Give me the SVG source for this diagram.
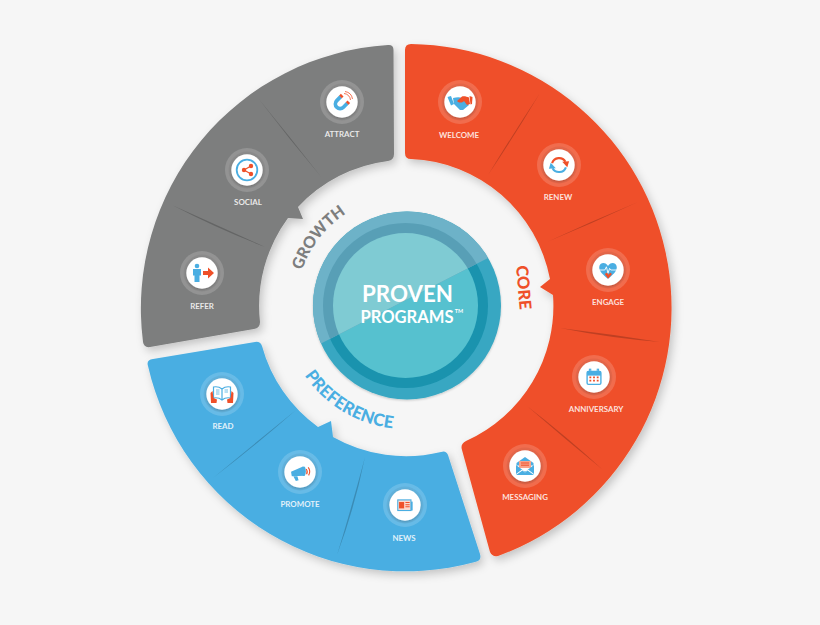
<svg xmlns="http://www.w3.org/2000/svg" width="820" height="625" viewBox="0 0 820 625">
<style>
.lbl{font-family:Lato,"Liberation Sans",sans-serif;font-weight:700;font-size:7.9px;fill:#fff;fill-opacity:.85;text-anchor:middle}
.arc{font-family:Lato,"Liberation Sans",sans-serif;font-weight:900;text-anchor:middle}
.ttl{font-family:Lato,"Liberation Sans",sans-serif;font-weight:700;fill:#fff;text-anchor:middle}
.ring{fill:#fff;fill-opacity:.17}
.ring2{fill:#000;fill-opacity:.05}
.face{fill:#fff}
.b{fill:#4aaee2}.r{fill:#ef5029}
.bs{fill:none;stroke:#4aaee2}.rs{fill:none;stroke:#ef5029}
.w{fill:none;stroke:#fff}
.div{fill:#000;fill-opacity:.2;filter:url(#soft)}
</style>
<defs>
<filter id="sh" x="-10%" y="-10%" width="120%" height="120%"><feDropShadow dx="3" dy="4" stdDeviation="4" flood-color="#000" flood-opacity=".2"/></filter>
<filter id="soft" x="-20%" y="-20%" width="140%" height="140%"><feGaussianBlur stdDeviation=".6"/></filter>
<filter id="sh2" x="-20%" y="-20%" width="140%" height="140%"><feDropShadow dx="0" dy="1" stdDeviation="1.2" flood-color="#000" flood-opacity=".2"/></filter>
<clipPath id="chord"><path d="M290,365 L322,343 L488,258 L520,190 L300,190 Z"/></clipPath>
<path id="pg" d="M297.5,288 A110 110 0 0 1 367.3,203"/>
<path id="pp" d="M287.2,337.8 A123 123 0 0 0 437.8,424.8"/>
<g id="badge"><circle class="ring" r="22"/><circle class="ring2" r="18.5"/><circle class="face" r="15.700" filter="url(#sh2)"/></g>
</defs>
<rect width="820" height="625" fill="#f6f6f6"/>

<g id="segment-growth"><path filter="url(#sh)" fill="#7d7e7e" d="M388,45 Q393.500,44.500 393.500,50 L394,154 Q394,160 388,161 A148 148 0 0 0 298,207 L303,219 L288,218 A148 148 0 0 0 260,322 Q260,328 254,329 L150,347 Q144,348 143,342 A264 264 0 0 1 388,45 Z"/>
<text class="arc" fill="#7d7e7e" font-size="16"><textPath href="#pg" startOffset="47.500%">GROWTH</textPath></text></g>

<g id="segment-core"><path filter="url(#sh)" fill="#ef5029" d="M405,50 Q405,44 411,44 A264 264 0 0 1 498,556 Q492,557 490,552 L462,450 Q460,444 466,441 A148 148 0 0 0 553,295 L540,287 L550,279 A148 148 0 0 0 411,159 Q405,159 405,153 Z"/>
<text class="arc" fill="#ef5029" font-size="16.500" transform="translate(516,266) rotate(85)" style="text-anchor:start">CORE</text></g>

<g id="segment-preference"><path filter="url(#sh)" fill="#4aaee2" d="M148,366 Q146,360 153,359 L255,342 Q260,341 262,346 A148 148 0 0 0 318,427 L331,421 L333,437 A148 148 0 0 0 441,452 Q446,450 448,455 L480,554 Q482,561 475,562 A264 264 0 0 1 148,366 Z"/>
<text class="arc" fill="#4aaee2" font-size="17"><textPath href="#pp" startOffset="49%">PREFERENCE</textPath></text></g>

<g id="connectors">
<path class="div" d="M258,98 Q289,139 322,178 Q290,137 258,98Z"/>
<path class="div" d="M172,205 Q218,229 265,247 Q219,226 172,205Z"/>
<path class="div" d="M540,93 Q513,134 488,175 Q515,135 540,93Z"/>
<path class="div" d="M638,202 Q592,221 547,242 Q593,223 638,202Z"/>
<path class="div" d="M560,328 Q610,338 660,342 Q610,334 560,328Z"/>
<path class="div" d="M527,406 Q565,439 603,470 Q566,436 527,406Z"/>
<path class="div" d="M296,410 Q254,444 213,478 Q255,446 296,410Z"/>
<path class="div" d="M365,457 Q352,506 337,555 Q355,507 365,457Z"/>
</g>

<g id="hub">
<circle cx="407" cy="305.500" r="94" fill="#38a7c2" filter="url(#sh2)"/>
<circle cx="405.500" cy="305.500" r="82.500" fill="#1a93ae"/>
<circle cx="405.500" cy="305.500" r="72.500" fill="#56c1cf"/>
<g clip-path="url(#chord)">
<circle cx="407" cy="305.500" r="94" fill="#6db2c8"/>
<circle cx="405.500" cy="305.500" r="82.500" fill="#589fb6"/>
<circle cx="405.500" cy="305.500" r="72.500" fill="#7fcbd3"/>
</g>
<text class="ttl" x="407.500" y="302" font-size="22.300">PROVEN</text>
<text class="ttl" x="407" y="323" font-size="16.600">PROGRAMS</text>
<text class="ttl" x="459" y="313" font-size="5.500">TM</text>
</g>

<g id="attract" transform="translate(342,102)"><use href="#badge"/>
<g transform="translate(-1,1) rotate(45) scale(.85)"><path class="bs" stroke-width="4.400" d="M-5.500,-5 V1.500 A5.500 5.500 0 0 0 5.500,1.500 V-5"/><rect class="r" x="-7.700" y="-7.500" width="4.400" height="2.800"/><rect class="r" x="3.300" y="-7.500" width="4.400" height="2.800"/></g>
<path class="rs" stroke-width=".8" d="M2,-8.500 A7 7 0 0 1 8.500,-2 M3,-10.500 A9 9 0 0 1 10.500,-3"/>
<text class="lbl" y="35.300">ATTRACT</text></g>

<g id="social" transform="translate(247,170)"><use href="#badge"/>
<circle class="bs" stroke-width="1.800" r="10.300"/>
<path class="rs" stroke-width="1.200" d="M4,-4 L-3,0 L4,4"/><circle class="r" cx="4" cy="-4" r="2.200"/><circle class="r" cx="-3" cy="0" r="2.200"/><circle class="r" cx="4" cy="4" r="2.200"/>
<text class="lbl" x="1" y="35.200">SOCIAL</text></g>

<g id="refer" transform="translate(202,273)"><use href="#badge"/>
<circle class="b" cx="-5" cy="-7" r="2.300"/><path class="b" d="M-9,-4 H-1 V2.500 H-2.500 V9 H-7.500 V2.500 H-9Z"/>
<path class="r" d="M1,-2 H6 V-5.500 L12,0 L6,5.500 V2 H1Z"/>
<text class="lbl" y="35.600">REFER</text></g>

<g id="welcome" transform="translate(460,102)"><use href="#badge"/>
<path class="b" d="M-12.500,-5 L-9,-6 L-6,2 L-9,3.500Z"/>
<path class="b" d="M-7,-4 C-3,-5 0,-5 2,-4 L-2,-1 C0,1 3,-1 5,-2 L9,3 L3,8 L0,8 L-6,2Z"/>
<path class="r" d="M-3,-1 L2,-5.500 C5,-6 7,-5 9,-4.500 L10,2 L7,3 L4,-1 C2,1 -1,1 -3,-1Z"/>
<path class="r" d="M9.500,-6 L12.500,-5 L12,2 L10.500,2.500Z"/>
<text class="lbl" x="-1" y="35.600">WELCOME</text></g>

<g id="renew" transform="translate(559,165)"><use href="#badge"/>
<g transform="scale(.92)"><path class="rs" stroke-width="2.300" d="M-7.500,-2 A8 8 0 0 1 7,-3.500"/><path class="r" d="M3.500,-3.500 L11,-4 L9,2.500Z"/>
<path class="bs" stroke-width="2.300" d="M7.500,2.500 A8 8 0 0 1 -7,3.500"/><path class="b" d="M-3.500,3.500 L-11,4 L-9,-2.500Z"/></g>
<text class="lbl" x="-1" y="34.600">RENEW</text></g>

<g id="engage" transform="translate(608,270)"><use href="#badge"/>
<g transform="scale(.8)"><path class="b" d="M0,11 C-6,6 -11,2 -11,-3.500 C-11,-8 -6,-10 -3,-8 C-1.500,-7.200 -.5,-6 0,-5 C.5,-6 1.500,-7.200 3,-8 C6,-10 11,-8 11,-3.500 C11,2 6,6 0,11Z"/>
<path class="r" d="M-4,5 L0,11 L5,5 L2.500,3 L1,6 L-1,3Z"/>
<path class="w" stroke-width="1.100" d="M-11,0 H-4 L-2,-4 L0,4 L2,-2 L3.500,0 H11"/></g>
<text class="lbl" y="35.200">ENGAGE</text></g>

<g id="anniversary" transform="translate(594,377)"><use href="#badge"/>
<g transform="scale(.92)"><rect class="bs" stroke-width="1.500" x="-7.500" y="-6" width="15" height="14" rx="1.500"/><rect class="b" x="-7.500" y="-6" width="15" height="4.500"/>
<rect class="bs" stroke-width="1.100" x="-5" y="-8.500" width="1.500" height="5"/><rect class="bs" stroke-width="1.100" x="3.500" y="-8.500" width="1.500" height="5"/>
<path class="r" d="M-5,-.5h2v1.800h-2zM-1,-.5h2v1.800h-2zM3,-.5h2v1.800h-2zM-5,3h2v1.800h-2zM-1,3h2v1.800h-2zM3,3h2v1.800h-2z"/></g>
<text class="lbl" x="2" y="35.300">ANNIVERSARY</text></g>

<g id="messaging" transform="translate(525,466)"><use href="#badge"/>
<path class="b" d="M-8.500,-3 L0,-9 L8.500,-3 L8.500,-.5 L-8.500,-.5Z"/>
<rect x="-6" y="-5" width="12" height="7" fill="#f8a38c"/><rect class="r" x="-4" y="-3.500" width="8" height="1"/><rect class="r" x="-4" y="-1.300" width="8" height="1"/>
<path class="b" d="M-9,-1 L-1,5 H1 L9,-1 V8 L3,3.500 L0,6 L-3,3.500 L-9,8Z"/><path class="b" d="M-9,9 L-2.500,4.500 L0,6.500 L2.500,4.500 L9,9Z"/>
<text class="lbl" y="34.300">MESSAGING</text></g>

<g id="read" transform="translate(222,394)"><use href="#badge"/>
<path class="bs" stroke-width="1.200" d="M0,-5 C-3,-7.500 -6,-7.500 -8.500,-7 V4 C-6,3.500 -3,3.500 0,6 C3,3.500 6,3.500 8.500,4 V-7 C6,-7.500 3,-7.500 0,-5 V6"/>
<path class="bs" stroke-width=".8" d="M-6,-4 H-2.500 M-6,-2 H-2.500 M-6,0 H-2.500 M2.500,-4 H6 M2.500,-2 H6"/>
<path class="r" d="M-11.500,-1 L-9.500,-3 L-8.500,4 L-5,5.500 L-5.500,9 L-11,9Z"/><path class="r" d="M11.500,-1 L9.500,-3 L8.500,4 L5,5.500 L5.500,9 L11,9Z"/>
<text class="lbl" x="1" y="34.600">READ</text></g>

<g id="promote" transform="translate(300,472)"><use href="#badge"/>
<g transform="translate(-1,1) scale(.8)"><path class="b" d="M-10,-1.500 L5,-8 L7,3.500 L-9,4Z"/><path class="b" d="M-7,4 L-2,4 L-.5,9 L-4,10Z"/><ellipse cx="6" cy="-2.200" rx="2.500" ry="6" class="b"/>
<path class="rs" stroke-width="1.400" d="M9,-5 A6 6 0 0 1 9.500,1.500 M11.500,-7 A9 9 0 0 1 12,3"/></g>
<text class="lbl" y="34.600">PROMOTE</text></g>

<g id="news" transform="translate(405,505)"><use href="#badge"/>
<g transform="scale(.85)"><rect x="-8.500" y="-6" width="15.500" height="12.500" fill="#fdd9ce" stroke="#4aaee2" stroke-width="1.300"/>
<rect class="b" x="7" y="-4" width="2" height="10.500"/>
<rect class="r" x="-7" y="-3.500" width="6" height="7.500"/><path class="r" d="M.5,-3.500h5v1.200h-5zM.5,-1h5v1.200h-5zM.5,1.500h5v1.200h-5z"/></g>
<text class="lbl" x="-1" y="35.600">NEWS</text></g>
</svg>
